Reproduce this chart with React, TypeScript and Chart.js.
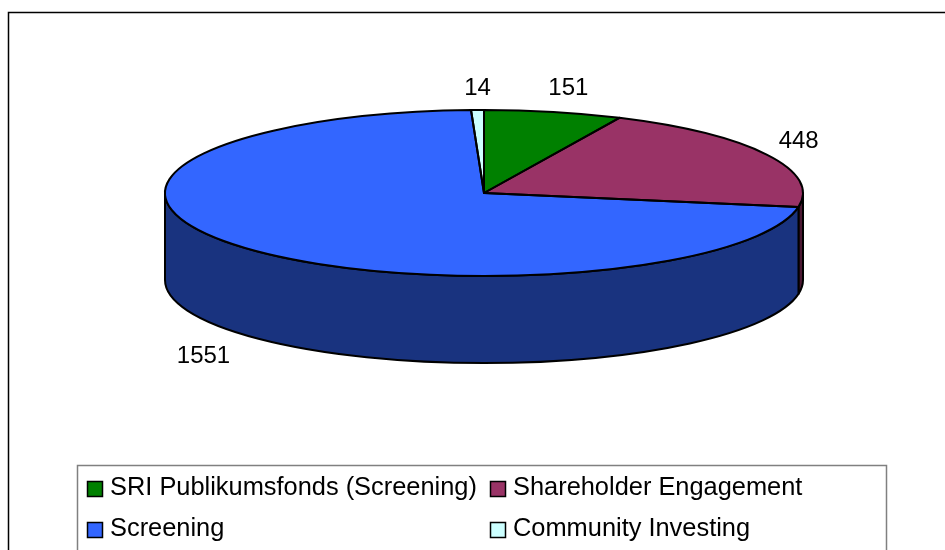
import React, { useEffect, useRef } from "react";
import { Chart, registerables } from "chart.js";

Chart.register(...registerables);

const categories = [
  "SRI Publikumsfonds (Screening)",
  "Shareholder Engagement",
  "Screening",
  "Community Investing",
];
const values = [151, 448, 1551, 14];
const topColors = ["#008000", "#993366", "#3366FF", "#CCFFFF"];
const wallColors = ["#004000", "#4C1933", "#19337F", "#668080"];

const FONT = "'Liberation Sans', Arial, sans-serif";
const ELLIPSE = { cx: 484, cy: 193, rx: 319, ry: 83, depth: 87 };
const LABEL_NUDGE = [
  { dx: 15, dy: -25 },
  { dx: 32, dy: -14 },
  { dx: -41, dy: 21 },
  { dx: 0, dy: -23 },
];

const pie3d = {
  id: "pie3d",
  beforeDatasetsDraw(chart: any) {
    const ctx = chart.ctx;
    const arcs = chart.getDatasetMeta(0).data;
    const { cx, cy, rx, ry, depth } = ELLIPSE;

    // outer border
    ctx.save();
    ctx.strokeStyle = "#000";
    ctx.lineWidth = 1.5;
    ctx.beginPath();
    ctx.moveTo(8.5, 560);
    ctx.lineTo(8.5, 12.5);
    ctx.lineTo(960, 12.5);
    ctx.stroke();
    ctx.restore();

    // side walls: only the part of every slice facing the viewer
    ctx.save();
    ctx.lineWidth = 2;
    ctx.strokeStyle = "#000";
    ctx.lineJoin = "round";
    arcs.forEach((arc: any, i: number) => {
      const tau = Math.PI * 2;
      let a0 = arc.startAngle % tau;
      let a1 = arc.endAngle % tau;
      if (a0 < 0) a0 += tau;
      if (a1 < 0) a1 += tau;
      if (a1 < a0) a1 += tau;
      const windows = [
        [0, Math.PI],
        [tau, tau + Math.PI],
      ];
      windows.forEach(([w0, w1]) => {
        const s = Math.max(a0, w0);
        const e = Math.min(a1, w1);
        if (e <= s) return;
        ctx.beginPath();
        ctx.ellipse(cx, cy, rx, ry, 0, s, e);
        ctx.ellipse(cx, cy + depth, rx, ry, 0, e, s, true);
        ctx.closePath();
        ctx.fillStyle = wallColors[i];
        ctx.fill();
        ctx.stroke();
      });
    });
    ctx.restore();

    // the library's own arcs are drawn squashed to make the disc top
    const first = arcs[0];
    const r = first.outerRadius;
    ctx.save();
    ctx.translate(cx, cy);
    ctx.scale(rx / r, ry / r);
    ctx.translate(-first.x, -first.y);
  },
  afterDatasetsDraw(chart: any) {
    const ctx = chart.ctx;
    ctx.restore();
    const arcs = chart.getDatasetMeta(0).data;
    const { cx, cy, rx, ry } = ELLIPSE;

    // outlines at an even line width
    ctx.save();
    ctx.strokeStyle = "#000";
    ctx.lineWidth = 2;
    ctx.lineJoin = "round";
    arcs.forEach((arc: any) => {
      ctx.beginPath();
      ctx.moveTo(cx, cy);
      ctx.ellipse(cx, cy, rx, ry, 0, arc.startAngle, arc.endAngle);
      ctx.closePath();
      ctx.stroke();
    });
    ctx.restore();

    // value labels
    ctx.save();
    ctx.fillStyle = "#000";
    ctx.font = `24px ${FONT}`;
    ctx.textAlign = "center";
    ctx.textBaseline = "middle";
    arcs.forEach((arc: any, i: number) => {
      const mid = (arc.startAngle + arc.endAngle) / 2;
      const s = Math.sin(mid);
      const x = cx + rx * Math.cos(mid) + LABEL_NUDGE[i].dx;
      const y = cy + ry * s + (s > 0 ? ELLIPSE.depth : 0) + LABEL_NUDGE[i].dy;
      ctx.fillText(String(values[i]), x, y + 1);
    });
    ctx.restore();

    // legend
    const box = { left: 77.5, top: 465.5, right: 886.5 };
    const cols = [87.5, 490.5];
    const rows = [481.5, 522.5];
    ctx.save();
    ctx.strokeStyle = "#808080";
    ctx.lineWidth = 1.5;
    ctx.beginPath();
    ctx.moveTo(box.left, 560);
    ctx.lineTo(box.left, box.top);
    ctx.lineTo(box.right, box.top);
    ctx.lineTo(box.right, 560);
    ctx.stroke();
    ctx.font = `25.4px ${FONT}`;
    ctx.textBaseline = "middle";
    ctx.textAlign = "left";
    categories.forEach((label, i) => {
      const x = cols[i % 2];
      const y = rows[Math.floor(i / 2)];
      ctx.fillStyle = topColors[i];
      ctx.fillRect(x, y, 15, 15);
      ctx.strokeStyle = "#000";
      ctx.lineWidth = 1.5;
      ctx.strokeRect(x, y, 15, 15);
      ctx.fillStyle = "#000";
      ctx.fillText(label, x + 22.5, y + 6);
    });
    ctx.restore();
  },
};

export default function App() {
  const ref = useRef<HTMLCanvasElement>(null);
  useEffect(() => {
    const chart = new Chart(ref.current as HTMLCanvasElement, {
      type: "pie",
      data: {
        labels: categories,
        datasets: [
          {
            data: values,
            backgroundColor: topColors,
            borderWidth: 0,
          },
        ],
      },
      options: {
        animation: false,
        responsive: false,
        rotation: 0,
        plugins: {
          legend: { display: false },
          tooltip: { enabled: false },
        },
      },
      plugins: [pie3d],
    } as any);
    return () => chart.destroy();
  }, []);
  return (
    <canvas
      ref={ref}
      width={945}
      height={550}
      style={{ position: "fixed", left: 0, top: 0, width: 945, height: 550, background: "#fff" }}
    />
  );
}
